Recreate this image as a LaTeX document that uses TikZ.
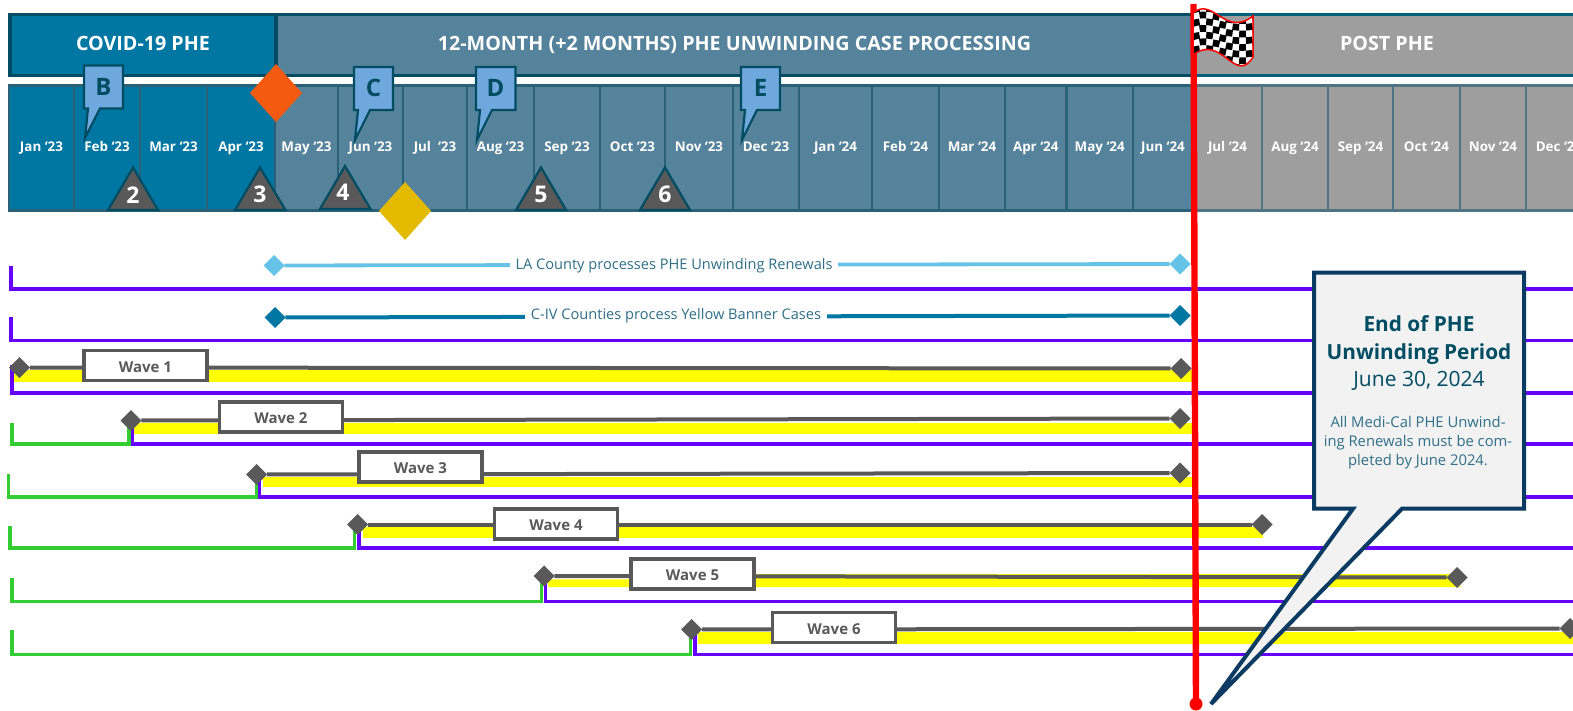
\documentclass[tikz,border=0pt]{standalone}
\usepackage{fontspec}
\setmainfont{Open Sans}
\usetikzlibrary{shapes,shapes.geometric}
\definecolor{covidblue}{HTML}{0076A3}
\definecolor{unwindblue}{HTML}{55839B}
\definecolor{postgray}{HTML}{9E9E9E}
\definecolor{edgeteal}{HTML}{004C63}
\definecolor{monthedge}{HTML}{2A6177}
\definecolor{postedge}{HTML}{4F7483}
\definecolor{postband}{HTML}{00607C}
\definecolor{calloutblue}{HTML}{6FA8DC}
\definecolor{navyedge}{HTML}{0B3A63}
\definecolor{lineblue}{HTML}{66C3E8}
\definecolor{wavegray}{HTML}{595959}
\definecolor{renewpurple}{HTML}{6600FF}
\definecolor{prepgreen}{HTML}{33CC33}
\definecolor{notetext}{HTML}{2F6F88}
\definecolor{baryellow}{HTML}{FFFF00}
\definecolor{startorange}{HTML}{F55A11}
\definecolor{startgold}{HTML}{E4BA00}

\begin{document}
\begin{tikzpicture}[x=1pt,y=-1pt,
  every node/.append style={inner sep=0pt,outer sep=0pt,align=center},
  header/.style={draw=edgeteal,line width=3.4pt,minimum height=60.5pt,text=white,text height=15pt,text depth=4pt,font=\bfseries\fontsize{19.7}{23}\selectfont},
  month/.style={draw=monthedge,line width=2.4pt,minimum height=125pt,text=white,text height=10pt,text depth=3pt,font=\bfseries\fontsize{13.4}{16}\selectfont},
  marker/.style={shape=diamond,aspect=1,minimum width=21pt,minimum height=21pt},
  bigmarker/.style={shape=diamond,aspect=1,minimum width=52pt,minimum height=58pt}]
  \tikzstyle{covidmonth} = [month,fill=covidblue]
  \tikzstyle{unwindmonth} = [month,fill=unwindblue]
  \tikzstyle{postmonth} = [month,fill=postgray,draw=postedge]
  \tikzstyle{letter} = [text=edgeteal,font=\bfseries\fontsize{24}{28}\selectfont]
  \tikzstyle{callout} = [draw=edgeteal,line width=2.2pt,fill=calloutblue,line join=miter]
  \tikzstyle{flagtri} = [draw=edgeteal,line width=2.2pt,fill=wavegray]
  \tikzstyle{num} = [text=white,font=\bfseries\fontsize{23}{26}\selectfont]
  \tikzstyle{wavebox} = [draw=wavegray,line width=3.8pt,fill=white,minimum width=123pt,minimum height=30pt,text=wavegray,text height=13pt,text depth=0pt,font=\bfseries\fontsize{15}{18}\selectfont]
  \tikzstyle{waveline} = [draw=wavegray,line width=4pt]
  \tikzstyle{purpleline} = [draw=renewpurple,line width=3.8pt,line join=miter]
  \tikzstyle{greenline} = [draw=prepgreen,line width=3.8pt,line join=miter]
  \tikzstyle{note} = [fill=white,inner xsep=5.5pt,inner ysep=2pt,text=notetext,font=\fontsize{14.6}{17}\selectfont]
  \tikzstyle{flagrow} = [draw=black,line width=6.7pt,dash pattern=on 6.7pt off 6.7pt]
  \path[use as bounding box,clip] (0,0) rectangle (1573,711);

  \node (h_1) [header,fill=covidblue,minimum width=266pt] at (143,45) {COVID-19 PHE};
  \node (h_2) [header,fill=unwindblue,minimum width=917pt] at (734.5,45) {12-MONTH (+2 MONTHS) PHE UNWINDING CASE PROCESSING};
  \node (h_3) [header,fill=postgray,draw=postband,minimum width=388pt] at (1387,45) {POST PHE};

  \node (m_1) [covidmonth,minimum width=65pt] at (41.5,148) {Jan ‘23};
  \node (m_2) [covidmonth,minimum width=66pt] at (107,148) {Feb ‘23};
  \node (m_3) [covidmonth,minimum width=67pt] at (173.5,148) {Mar ‘23};
  \node (m_4) [covidmonth,minimum width=68pt] at (241,148) {Apr ‘23};
  \node (m_5) [unwindmonth,minimum width=63pt] at (306.5,148) {May ‘23};
  \node (m_6) [unwindmonth,minimum width=65pt] at (370.5,148) {Jun ‘23};
  \node (m_7) [unwindmonth,minimum width=64pt] at (435,148) {Jul\ \ ‘23};
  \node (m_8) [unwindmonth,minimum width=67pt] at (500.5,148) {Aug ‘23};
  \node (m_9) [unwindmonth,minimum width=66pt] at (567,148) {Sep ‘23};
  \node (m_10) [unwindmonth,minimum width=65pt] at (632.5,148) {Oct ‘23};
  \node (m_11) [unwindmonth,minimum width=68pt] at (699,148) {Nov ‘23};
  \node (m_12) [unwindmonth,minimum width=66pt] at (766,148) {Dec ‘23};
  \node (m_13) [unwindmonth,minimum width=73pt] at (835.5,148) {Jan ‘24};
  \node (m_14) [unwindmonth,minimum width=67pt] at (905.5,148) {Feb ‘24};
  \node (m_15) [unwindmonth,minimum width=66pt] at (972,148) {Mar ‘24};
  \node (m_16) [unwindmonth,minimum width=61.5pt] at (1035.75,148) {Apr ‘24};
  \node (m_17) [unwindmonth,minimum width=66.5pt] at (1099.75,148) {May ‘24};
  \node (m_18) [unwindmonth,minimum width=60pt] at (1163,148) {Jun ‘24};
  \node (m_19) [postmonth,minimum width=69pt] at (1227.5,148) {Jul ‘24};
  \node (m_20) [postmonth,minimum width=66pt] at (1295,148) {Aug ‘24};
  \node (m_21) [postmonth,minimum width=65pt] at (1360.5,148) {Sep ‘24};
  \node (m_22) [postmonth,minimum width=67pt] at (1426.5,148) {Oct ‘24};
  \node (m_23) [postmonth,minimum width=66pt] at (1493,148) {Nov ‘24};
  \node (m_24) [postmonth,minimum width=66pt] at (1559,148) {Dec ‘24};

  \draw[callout] (84,65.5) -- (123,65.5) -- (123,108.5) -- (100,108.5) -- (85,138) -- (88,108.5) -- (84,108.5) -- cycle;
  \draw[callout] (354,67) -- (393,67) -- (393,110) -- (370,110) -- (355,140) -- (358,110) -- (354,110) -- cycle;
  \draw[callout] (476,67) -- (515.5,67) -- (515.5,110) -- (492,110) -- (477,140) -- (480,110) -- (476,110) -- cycle;
  \draw[callout] (741,67) -- (780,67) -- (780,110) -- (757,110) -- (742,140) -- (745,110) -- (741,110) -- cycle;
  \node (c_b) [letter] at (103.5,87) {B};
  \node (c_c) [letter] at (373.5,88) {C};
  \node (c_d) [letter] at (495.5,88) {D};
  \node (c_e) [letter] at (760.5,88) {E};

  \draw[flagtri] (133,167.5) -- (158,210) -- (108,210) -- cycle;
  \draw[flagtri] (260,167.5) -- (285.5,210) -- (235,210) -- cycle;
  \draw[flagtri] (345,166) -- (370.5,209) -- (320,209) -- cycle;
  \draw[flagtri] (541,167.5) -- (566,210) -- (516,210) -- cycle;
  \draw[flagtri] (665,167.5) -- (690,210) -- (640,210) -- cycle;
  \node (t_2) [num] at (133,195) {2};
  \node (t_3) [num] at (260,194) {3};
  \node (t_4) [num] at (343,192) {4};
  \node (t_5) [num] at (541,194) {5};
  \node (t_6) [num] at (665,194) {6};

  \node (d_1) [bigmarker,fill=startorange] at (276,93) {};
  \node (d_2) [bigmarker,fill=startgold] at (405,211) {};

  \fill[baryellow] (13,370) rectangle (1192,381.7);
  \fill[baryellow] (133,422.7) rectangle (1192,434);
  \fill[baryellow] (263,476.7) rectangle (1192,487.3);
  \fill[baryellow] (362.5,527.3) rectangle (1263,537.7);
  \fill[baryellow] (548,579.3) -- (640,579.3) -- (750,574) -- (1460,574) -- (1460,587) -- (548,587) -- cycle;
  \fill[baryellow] (698,631.7) rectangle (1573,644.3);

  \coordinate (p_1a) at (11,266);
  \coordinate (p_1b) at (1573,289);
  \coordinate (p_2a) at (11,317);
  \coordinate (p_2b) at (1573,340.5);
  \coordinate (p_3a) at (12,365);
  \coordinate (p_3b) at (1573,393);
  \coordinate (p_4a) at (132.5,425);
  \coordinate (p_4b) at (1573,444);
  \coordinate (p_5a) at (259.5,478);
  \coordinate (p_5b) at (1573,497);
  \coordinate (p_6a) at (359,530);
  \coordinate (p_6b) at (1573,548);
  \coordinate (p_7a) at (545.5,582);
  \coordinate (p_7b) at (1573,601.5);
  \coordinate (p_8a) at (695,634);
  \coordinate (p_8b) at (1573,654.5);
  \draw[purpleline] (p_1a) |- (p_1b);
  \draw[purpleline] (p_2a) |- (p_2b);
  \draw[purpleline] (p_3a) |- (p_3b);
  \draw[purpleline] (p_4a) |- (p_4b);
  \draw[purpleline] (p_5a) |- (p_5b);
  \draw[purpleline] (p_6a) |- (p_6b);
  \draw[purpleline] (p_7a) |- (p_7b);
  \draw[purpleline] (p_8a) |- (p_8b);

  \coordinate (g_2a) at (12,423);
  \coordinate (g_2b) at (129,444);
  \coordinate (g_2c) at (129,425);
  \coordinate (g_3a) at (8.5,474);
  \coordinate (g_3b) at (256.5,497);
  \coordinate (g_3c) at (256.5,478);
  \coordinate (g_4a) at (10,525.5);
  \coordinate (g_4b) at (354.5,548);
  \coordinate (g_4c) at (354.5,530);
  \coordinate (g_5a) at (12,577.5);
  \coordinate (g_5b) at (541.5,601.5);
  \coordinate (g_5c) at (541.5,582);
  \coordinate (g_6a) at (12,630);
  \coordinate (g_6b) at (690.5,654.5);
  \coordinate (g_6c) at (690.5,634);
  \draw[greenline] (g_2a) |- (g_2b) -- (g_2c);
  \draw[greenline] (g_3a) |- (g_3b) -- (g_3c);
  \draw[greenline] (g_4a) |- (g_4b) -- (g_4c);
  \draw[greenline] (g_5a) |- (g_5b) -- (g_5c);
  \draw[greenline] (g_6a) |- (g_6b) -- (g_6c);

  \node (la_1) [marker,fill=lineblue] at (274,265.5) {};
  \node (la_2) [marker,fill=lineblue] at (1180,264) {};
  \node (civ_1) [marker,fill=covidblue] at (275,317.5) {};
  \node (civ_2) [marker,fill=covidblue] at (1180,315.5) {};
  \draw[draw=lineblue,line width=3.8pt] (la_1) -- (la_2);
  \draw[draw=covidblue,line width=4pt] (civ_1) -- (civ_2);
  \node (la_t) [note] at (674,265.5) {LA County processes PHE Unwinding Renewals};
  \node (civ_t) [note] at (676,315.5) {C-IV Counties process Yellow Banner Cases};

  \node (w1_1) [marker,fill=wavegray] at (19.5,367.5) {};
  \node (w1_2) [marker,fill=wavegray] at (1181,368.5) {};
  \node (w2_1) [marker,fill=wavegray] at (131,420.5) {};
  \node (w2_2) [marker,fill=wavegray] at (1180,418.5) {};
  \node (w3_1) [marker,fill=wavegray] at (256.5,474.5) {};
  \node (w3_2) [marker,fill=wavegray] at (1180,473) {};
  \node (w4_1) [marker,fill=wavegray] at (357.5,524.5) {};
  \node (w4_2) [marker,fill=wavegray] at (1262,524.5) {};
  \node (w5_1) [marker,fill=wavegray] at (544,576) {};
  \node (w5_2) [marker,fill=wavegray] at (1457,577.5) {};
  \node (w6_1) [marker,fill=wavegray] at (691.5,629.5) {};
  \node (w6_2) [marker,fill=wavegray] at (1570,628.5) {};
  \draw[waveline] (w1_1) -- (w1_2);
  \draw[waveline] (w2_1) -- (w2_2);
  \draw[waveline] (w3_1) -- (w3_2);
  \draw[waveline] (w4_1) -- (w4_2);
  \draw[waveline] (w5_1) -- (w5_2);
  \draw[waveline] (w6_1) -- (w6_2);
  \node (b_1) [wavebox] at (145.5,365.5) {Wave 1};
  \node (b_2) [wavebox] at (281,417) {Wave 2};
  \node (b_3) [wavebox] at (420.5,467) {Wave 3};
  \node (b_4) [wavebox] at (556,524) {Wave 4};
  \node (b_5) [wavebox] at (692.5,574) {Wave 5};
  \node (b_6) [wavebox] at (834,627.5) {Wave 6};

  \draw[red,line width=6.4pt] (1193.5,4) -- (1196,704);
  \fill[red] (1196,704) circle (6.5);
  \path[fill=white] (1193,13) .. controls (1213,-4) and (1225,38) .. (1253,16) -- (1253,57) .. controls (1235,86) and (1222,33) .. (1193,55) -- cycle;
  \begin{scope}
    \clip (1193,13) .. controls (1213,-4) and (1225,38) .. (1253,16) -- (1253,57) .. controls (1235,86) and (1222,33) .. (1193,55) -- cycle;
    \draw[flagrow] (1193,10) .. controls (1213,3.6) and (1225,17.6) .. (1253,13);
    \draw[flagrow,yshift=-6.7pt,dash phase=6.7pt] (1193,10) .. controls (1213,3.6) and (1225,17.6) .. (1253,13);
    \draw[flagrow,yshift=-13.4pt] (1193,10) .. controls (1213,3.6) and (1225,17.6) .. (1253,13);
    \draw[flagrow,yshift=-20.1pt,dash phase=6.7pt] (1193,10) .. controls (1213,3.6) and (1225,17.6) .. (1253,13);
    \draw[flagrow,yshift=-26.8pt] (1193,10) .. controls (1213,3.6) and (1225,17.6) .. (1253,13);
    \draw[flagrow,yshift=-33.5pt,dash phase=6.7pt] (1193,10) .. controls (1213,3.6) and (1225,17.6) .. (1253,13);
    \draw[flagrow,yshift=-40.2pt] (1193,10) .. controls (1213,3.6) and (1225,17.6) .. (1253,13);
    \draw[flagrow,yshift=-46.9pt,dash phase=6.7pt] (1193,10) .. controls (1213,3.6) and (1225,17.6) .. (1253,13);
    \draw[flagrow,yshift=-53.6pt] (1193,10) .. controls (1213,3.6) and (1225,17.6) .. (1253,13);
  \end{scope}
  \draw[red,line width=1.5pt] (1193,13) .. controls (1213,-4) and (1225,38) .. (1253,16) -- (1253,57) .. controls (1235,86) and (1222,33) .. (1193,55) -- cycle;

  \draw[draw=navyedge,fill=black!5,line width=4pt,line join=miter,miter limit=10] (1314,272.7) -- (1524,272.7) -- (1524,508.7) -- (1402,508.7) -- (1211,704) -- (1353,508.7) -- (1314,508.7) -- cycle;
  \node (e_1) [text=edgeteal,font=\bfseries\fontsize{20.8}{28}\selectfont] at (1419,340) {End of PHE\\Unwinding Period};
  \node (e_2) [text=edgeteal,font=\fontsize{21}{25}\selectfont] at (1419,381) {June 30, 2024};
  \node (e_3) [text=notetext,font=\fontsize{14.8}{19}\selectfont] at (1418,443) {All Medi-Cal PHE Unwind-\\ing Renewals must be com-\\pleted by June 2024.};
\end{tikzpicture}
\end{document}
